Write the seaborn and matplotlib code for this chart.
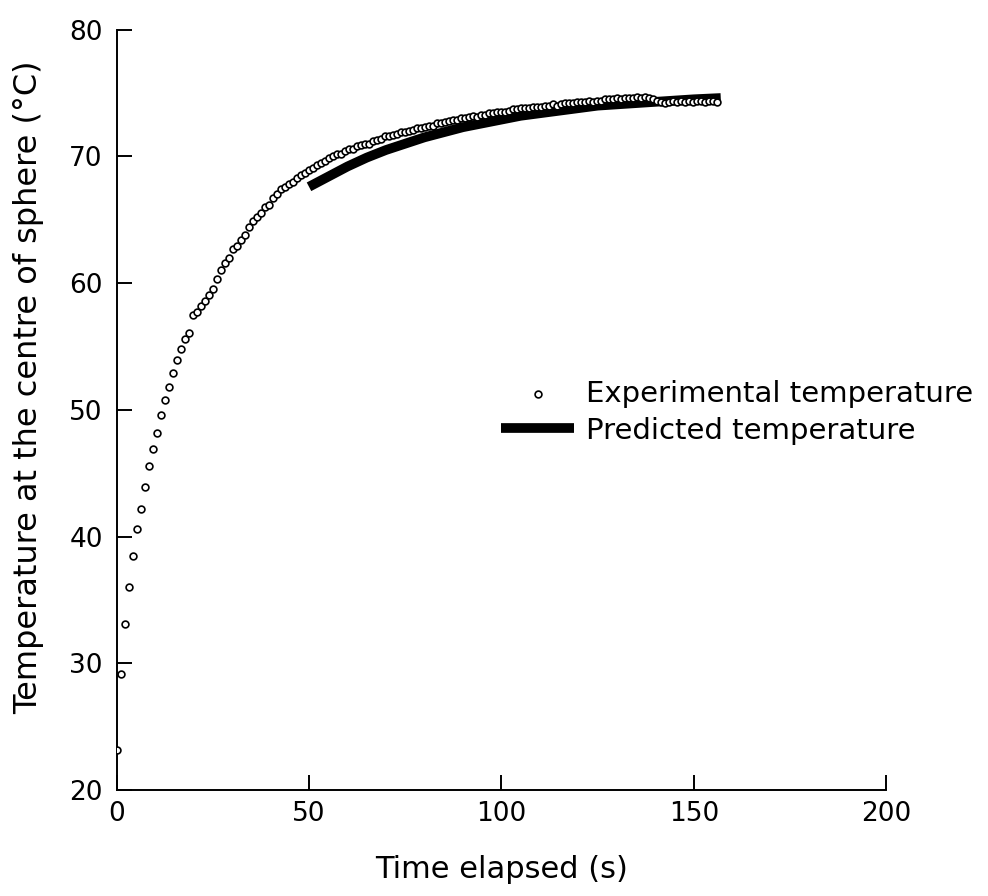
import numpy as np
import pandas as pd
import seaborn as sns
from matplotlib import pyplot as plt

# === DATA ===

SAMPLE_INTERVAL = 1.04  # s between logged readings

exp_temp = [
    23.2, 29.2, 33.1, 36.0, 38.5, 40.6, 42.2, 43.9, 45.6, 46.9,
    48.2, 49.6, 50.8, 51.8, 52.9, 53.9, 54.8, 55.6, 56.1, 57.5,
    57.7, 58.2, 58.6, 59.1, 59.5, 60.3, 61.0, 61.6, 62.0, 62.7,
    62.9, 63.4, 63.8, 64.4, 64.9, 65.2, 65.5, 66.0, 66.2, 66.7,
    67.0, 67.4, 67.6, 67.8, 68.0, 68.3, 68.5, 68.7, 68.9, 69.1,
    69.3, 69.5, 69.6, 69.9, 70.0, 70.2, 70.2, 70.4, 70.6, 70.6,
    70.8, 70.9, 71.0, 71.0, 71.2, 71.3, 71.4, 71.6, 71.6, 71.7,
    71.8, 71.9, 71.9, 72.0, 72.1, 72.2, 72.2, 72.3, 72.4, 72.4,
    72.6, 72.6, 72.7, 72.8, 72.9, 72.9, 73.0, 73.0, 73.1, 73.2,
    73.1, 73.3, 73.3, 73.4, 73.4, 73.5, 73.5, 73.5, 73.6, 73.7,
    73.7, 73.8, 73.8, 73.8, 73.9, 73.9, 73.9, 74.0, 74.0, 74.1,
    74.0, 74.1, 74.2, 74.2, 74.2, 74.3, 74.3, 74.3, 74.4, 74.3,
    74.4, 74.4, 74.5, 74.5, 74.5, 74.6, 74.5, 74.6, 74.6, 74.6,
    74.7, 74.6, 74.7, 74.6, 74.5, 74.4, 74.3, 74.2, 74.3, 74.4,
    74.3, 74.4, 74.3, 74.4, 74.3, 74.4, 74.4, 74.3, 74.4, 74.4,
    74.3,
]
exp_time = np.arange(len(exp_temp)) * SAMPLE_INTERVAL

pred_time = [50, 55, 60, 65, 70, 75, 80, 85, 90, 95, 100, 105, 110,
             115, 120, 125, 130, 135, 140, 145, 150, 157]
pred_temp = [67.6, 68.4, 69.2, 69.9, 70.5, 71.0, 71.5, 71.9, 72.3, 72.6,
             72.9, 73.2, 73.4, 73.6, 73.8, 74.0, 74.1, 74.2, 74.3, 74.4,
             74.5, 74.6]

x_ticks = [0, 50, 100, 150, 200]
y_ticks = [20, 30, 40, 50, 60, 70, 80]

experimental = pd.DataFrame({'time': exp_time, 'temp': exp_temp})
predicted = pd.DataFrame({'time': pred_time, 'temp': pred_temp})

# === PLOT ===

sns.set_style('ticks')
plt.rcParams['font.family'] = ['DejaVu Sans']
plt.rcParams['text.color'] = 'black'
plt.rcParams['axes.labelcolor'] = 'black'

fig = plt.figure(figsize=(9.88, 8.96), dpi=100)
ax = fig.add_axes([0.118, 0.118, 0.779, 0.849])

sns.lineplot(data=predicted, x='time', y='temp', color='black',
             linewidth=7, solid_capstyle='butt',
             label='Predicted temperature', ax=ax)
sns.scatterplot(data=experimental, x='time', y='temp', marker='o',
                s=24, facecolor='white', edgecolor='black', linewidth=1.2,
                label='Experimental temperature', ax=ax, zorder=3)

ax.set_xlim(0, 200)
ax.set_ylim(20, 80)
ax.set_xticks(x_ticks)
ax.set_yticks(y_ticks)
ax.tick_params(direction='in', length=11, width=1.4, labelsize=19,
               color='black', labelcolor='black')
ax.tick_params(axis='x', pad=8)
ax.tick_params(axis='y', pad=10)
for side in ['left', 'bottom']:
    ax.spines[side].set_linewidth(1.4)
    ax.spines[side].set_color('black')
sns.despine(ax=ax)

ax.set_xlabel('Time elapsed (s)', fontsize=22)
ax.set_ylabel('Temperature at the centre of sphere (°C)', fontsize=23)
ax.xaxis.set_label_coords(0.5, -0.085)
ax.yaxis.set_label_coords(-0.094, 0.53)

handles, labels = ax.get_legend_handles_labels()
ax.legend(handles[::-1], labels[::-1], loc='center left',
          bbox_to_anchor=(0.50, 0.497), frameon=False, fontsize=21,
          handlelength=2.5, handletextpad=0.4, labelspacing=0.3,
          borderpad=0, borderaxespad=0)

plt.savefig('out.png', dpi=100)
